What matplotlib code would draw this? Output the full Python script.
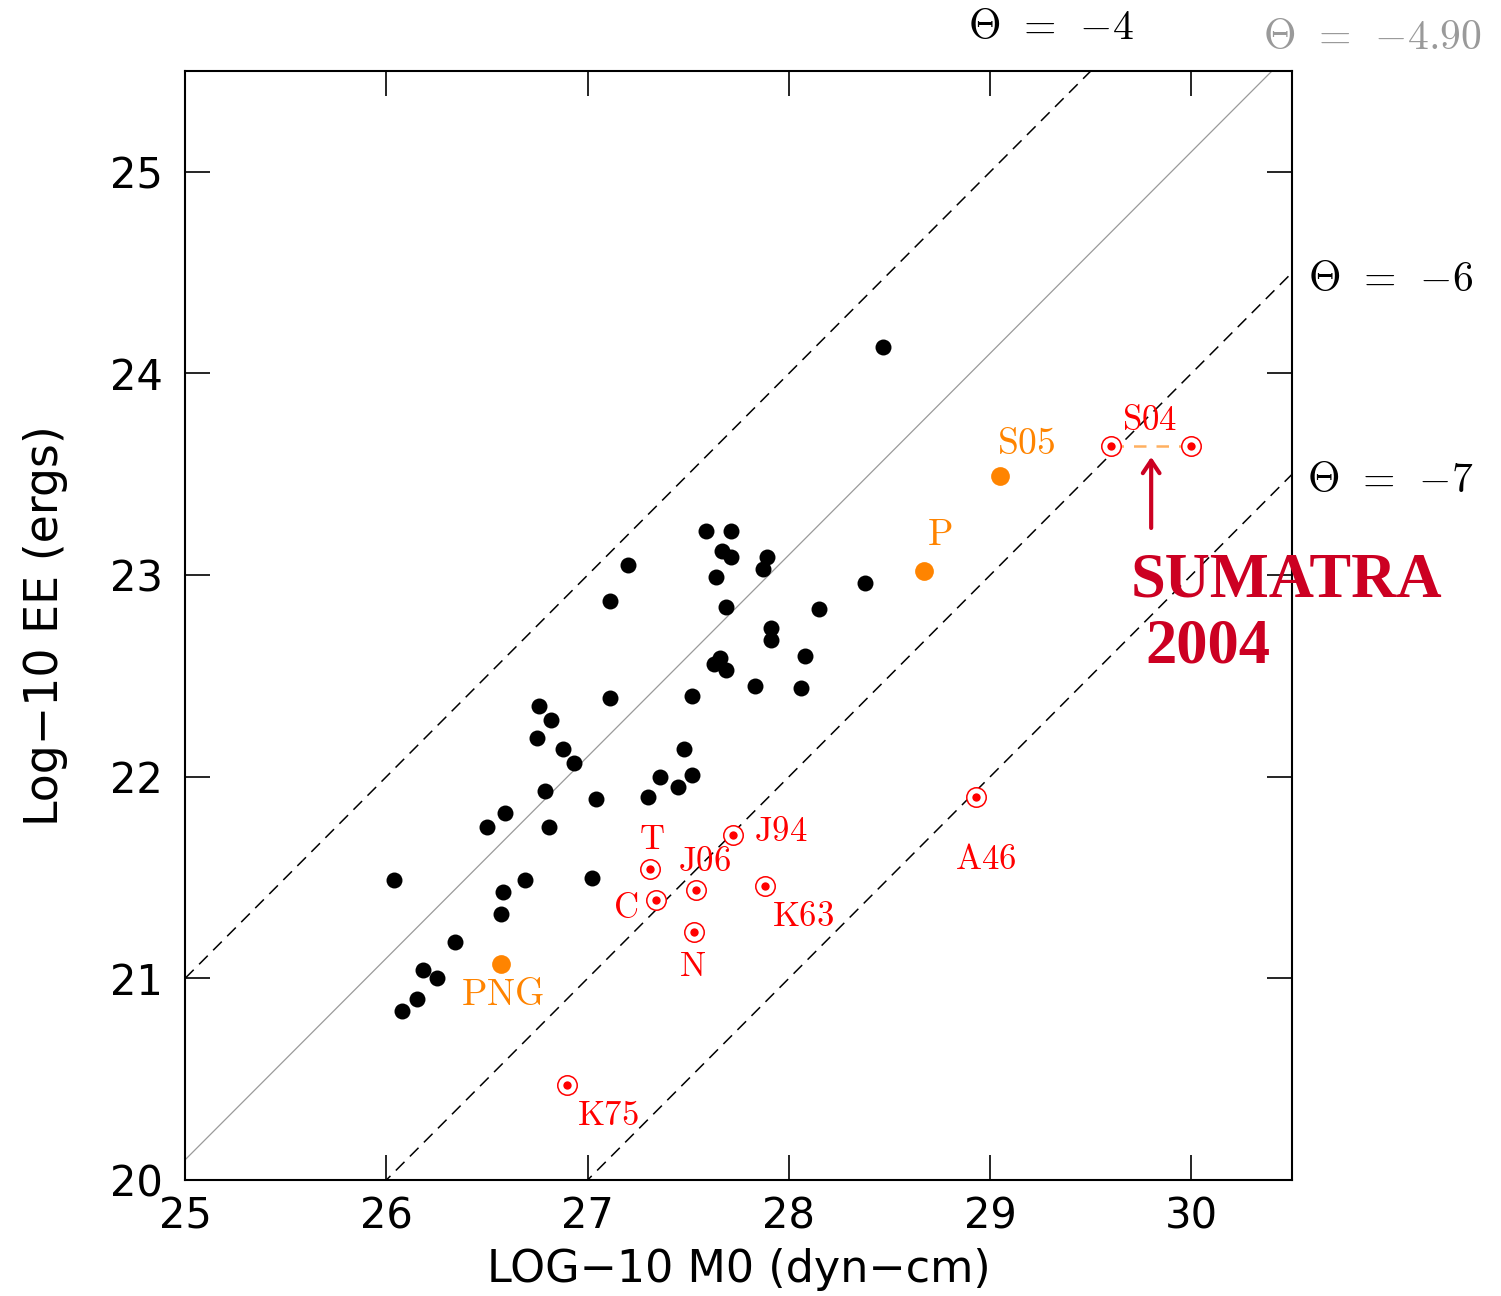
import numpy as np
import matplotlib.pyplot as plt

plt.rcParams["mathtext.fontset"] = "cm"

# black dots: log10 M0 (dyn-cm), log10 EE (ergs)
m0_black = [26.04, 26.08, 26.15, 26.18, 26.25, 26.34, 26.50, 26.59, 26.58, 26.57,
            26.69, 26.76, 26.82, 26.75, 26.88, 26.93, 26.79, 26.81, 27.02, 27.04,
            27.11, 27.20, 27.11, 27.30, 27.36, 27.45, 27.48, 27.52, 27.52, 27.59,
            27.71, 27.67, 27.71, 27.64, 27.69, 27.66, 27.63, 27.69, 27.83, 27.87,
            27.89, 27.91, 27.91, 28.08, 28.06, 28.15, 28.38, 28.47]
ee_black = [21.49, 20.84, 20.90, 21.04, 21.00, 21.18, 21.75, 21.82, 21.43, 21.32,
            21.49, 22.35, 22.28, 22.19, 22.14, 22.07, 21.93, 21.75, 21.50, 21.89,
            22.87, 23.05, 22.39, 21.90, 22.00, 21.95, 22.14, 22.01, 22.40, 23.22,
            23.22, 23.12, 23.09, 22.99, 22.84, 22.59, 22.56, 22.53, 22.45, 23.03,
            23.09, 22.74, 22.68, 22.60, 22.44, 22.83, 22.96, 24.13]

# orange events
orange_names = ["PNG", "P", "S05"]
m0_orange = [26.57, 28.67, 29.05]
ee_orange = [21.07, 23.02, 23.49]

# red (circled) events
red_names = ["T", "C", "J06", "N", "J94", "K63", "K75", "A46", "S04", "S04"]
m0_red = [27.31, 27.34, 27.54, 27.53, 27.72, 27.88, 26.90, 28.93, 29.60, 30.00]
ee_red = [21.54, 21.39, 21.44, 21.23, 21.71, 21.46, 20.47, 21.90, 23.64, 23.64]

# theta = log10(EE/M0) reference lines
thetas = [-4, -4.90, -6, -7]
x_ticks = [25, 26, 27, 28, 29, 30]
y_ticks = [20, 21, 22, 23, 24, 25]

fig = plt.figure(figsize=(15.01, 12.96), dpi=100)
ax = fig.add_axes([0.1233, 0.0895, 0.7375, 0.8557])
ax.set_xlim(25, 30.5)
ax.set_ylim(20, 25.5)

xx = np.array([25, 30.5])
for th in thetas:
    if th == -4.90:
        ax.plot(xx, xx + th, color="#9a9a9a", lw=0.9, zorder=1)
    else:
        ax.plot(xx, xx + th, color="black", lw=1.1, dashes=(8, 5), zorder=1)

ax.plot(m0_black, ee_black, "o", color="black", ms=11.5, mew=0, zorder=3)
ax.plot(m0_orange, ee_orange, "o", color="#ff8400", ms=13.5, mew=0, zorder=3)

# S04 range
ax.plot(m0_red[8:10], ee_red[8:10], color="#ffb060", lw=1.8, dashes=(5, 4), zorder=2)
ax.plot(m0_red, ee_red, "o", mfc="white", mec="red", ms=14, mew=1.1, zorder=3)
ax.plot(m0_red, ee_red, "o", color="red", ms=6, mew=0, zorder=4)

red_off = {"T": (0.01, 0.15), "C": (-0.15, -0.04), "J06": (0.04, 0.14),
           "N": (-0.01, -0.17), "J94": (0.24, 0.02), "K63": (0.19, -0.15),
           "K75": (0.20, -0.15), "A46": (0.05, -0.31), "S04": (-0.01, 0.13)}
done = set()
for n, x, y in zip(red_names, m0_red, ee_red):
    if n in done:
        continue
    done.add(n)
    dx, dy = red_off[n]
    if n == "S04":
        x = (m0_red[8] + m0_red[9]) / 2
    ax.text(x + dx, y + dy, r"$\mathrm{%s}$" % n, color="red", fontsize=25,
            ha="center", va="center")

orange_off = {"PNG": (0.01, -0.15), "P": (0.08, 0.18), "S05": (0.13, 0.16)}
for n, x, y in zip(orange_names, m0_orange, ee_orange):
    dx, dy = orange_off[n]
    ax.text(x + dx, y + dy, r"$\mathrm{%s}$" % n, color="#ff8400", fontsize=27,
            ha="center", va="center")

# Sumatra arrow + label
ax.annotate("", xy=(29.8, 23.6), xytext=(29.8, 23.22),
            arrowprops=dict(arrowstyle="->,head_length=0.9,head_width=0.6",
                            color="#cc0022", lw=3))
ax.text(30.47, 22.97, "SUMATRA", color="#cc0022", fontsize=45, family="Liberation Serif",
        fontweight="bold", ha="center", va="center", clip_on=False)
ax.text(30.08, 22.64, "2004", color="#cc0022", fontsize=45, family="Liberation Serif",
        fontweight="bold", ha="center", va="center", clip_on=False)

# theta labels
def theta_label(v):
    return r"$\Theta\;\,=\;\,{-}%s$" % v

ax.text(29.30, 25.72, theta_label("4"), fontsize=30, ha="center", va="center", clip_on=False)
ax.text(30.90, 25.67, theta_label("4.90"), fontsize=30, color="#9a9a9a",
        ha="center", va="center", clip_on=False)
ax.text(30.99, 24.47, theta_label("6"), fontsize=30, ha="center", va="center", clip_on=False)
ax.text(30.99, 23.47, theta_label("7"), fontsize=30, ha="center", va="center", clip_on=False)

ax.set_xticks(x_ticks)
ax.set_yticks(y_ticks)
ax.tick_params(direction="in", length=18, width=1.2, top=True, right=True,
               labelsize=30, pad=11)
ax.tick_params(axis="y", pad=16)
for s in ax.spines.values():
    s.set_linewidth(1.5)

ax.set_xlabel("LOG\u221210 M0 (dyn\u2212cm)", fontsize=32, labelpad=8)
ax.set_ylabel("Log\u221210 EE (ergs)", fontsize=33, labelpad=30)

fig.savefig("out.png", dpi=100)
